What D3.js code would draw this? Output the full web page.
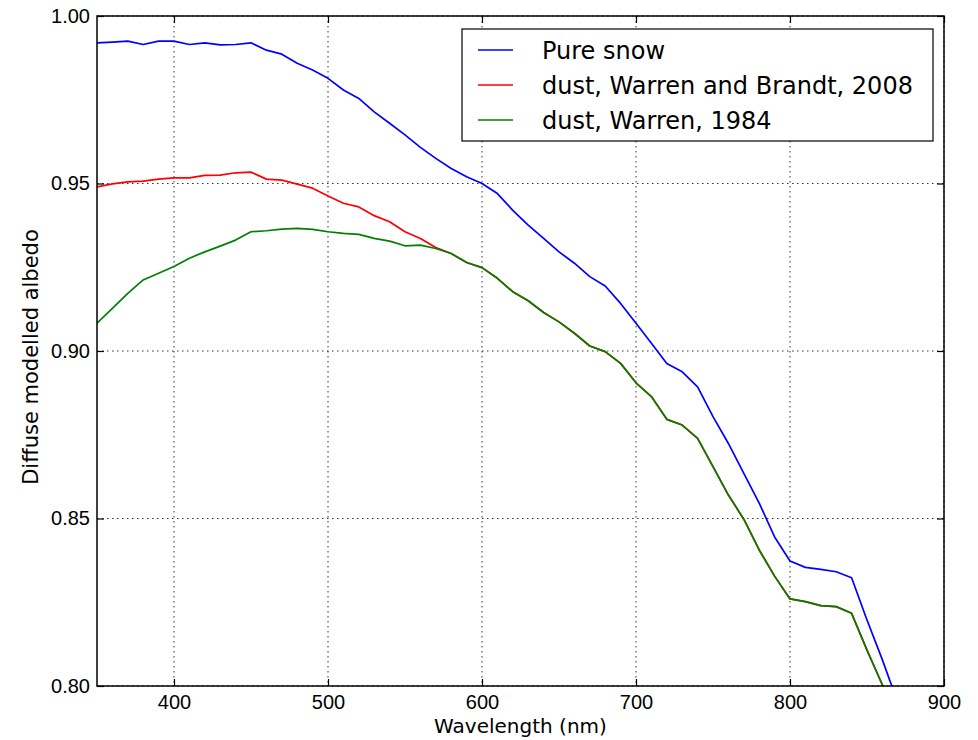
<!DOCTYPE html>
<html lang='en'>
<head>
   <meta charset='UTF-8'>
   <title>Diffuse modelled albedo</title>
   <script src='https://d3js.org/d3.v7.min.js'></script>
   <style>
      body { margin: 0; background: #fff; }
      svg { display: block; font-family: 'DejaVu Sans', sans-serif; }
      .domain { display: none; }
      .tick line { stroke: #000; stroke-width: 1.2; }
      .tick text { font-size: 20px; fill: #000; }
   </style>
</head>
<body>
   <div id='chart'></div>
   <script>
      // wavelength (nm) and modelled albedo
      const wavelength = [350, 360, 370, 380, 390, 400, 410, 420, 430, 440, 450, 460, 470, 480, 490, 500,
         510, 520, 530, 540, 550, 560, 570, 580, 590, 600, 610, 620, 630, 640, 650, 660, 670, 680, 690, 700,
         710, 720, 730, 740, 750, 760, 770, 780, 790, 800, 810, 820, 830, 840, 850, 860, 870];

      const pureSnow = [0.9920, 0.9922, 0.9925, 0.9915, 0.9925, 0.9925, 0.9915, 0.9920, 0.9914, 0.9915, 0.9920,
         0.9898, 0.9886, 0.9859, 0.9839, 0.9814, 0.9779, 0.9754, 0.9714, 0.9680, 0.9645, 0.9608, 0.9575,
         0.9545, 0.9520, 0.9500, 0.9470, 0.9420, 0.9376, 0.9336, 0.9296, 0.9262, 0.9222, 0.9194, 0.9142,
         0.9083, 0.9023, 0.8963, 0.8938, 0.8893, 0.8804, 0.8724, 0.8635, 0.8546, 0.8445, 0.8373, 0.8354,
         0.8348, 0.8341, 0.8323, 0.8197, 0.8078, 0.7950];

      const dustWB2008 = [0.9490, 0.9499, 0.9505, 0.9507, 0.9513, 0.9517, 0.9517, 0.9524, 0.9525, 0.9532, 0.9534,
         0.9513, 0.9510, 0.9498, 0.9486, 0.9463, 0.9441, 0.9430, 0.9404, 0.9386, 0.9356, 0.9336, 0.9309,
         0.9291, 0.9264, 0.9249, 0.9217, 0.9177, 0.9150, 0.9115, 0.9087, 0.9053, 0.9015, 0.8998, 0.8963,
         0.8905, 0.8864, 0.8796, 0.8779, 0.8739, 0.8655, 0.8570, 0.8498, 0.8406, 0.8328, 0.8260, 0.8252,
         0.8240, 0.8237, 0.8217, 0.8107, 0.8003, 0.7890];

      const dustW1984 = [0.9083, 0.9127, 0.9172, 0.9212, 0.9232, 0.9252, 0.9277, 0.9296, 0.9313, 0.9331, 0.9356,
         0.9359, 0.9364, 0.9366, 0.9363, 0.9356, 0.9351, 0.9348, 0.9336, 0.9328, 0.9314, 0.9316, 0.9306,
         0.9291, 0.9264, 0.9249, 0.9217, 0.9177, 0.9150, 0.9115, 0.9087, 0.9053, 0.9015, 0.8998, 0.8963,
         0.8905, 0.8864, 0.8796, 0.8779, 0.8739, 0.8655, 0.8570, 0.8498, 0.8406, 0.8328, 0.8260, 0.8252,
         0.8240, 0.8237, 0.8217, 0.8107, 0.8003, 0.7890];

      const seriesNames = ['Pure snow', 'dust, Warren and Brandt, 2008', 'dust, Warren, 1984'];
      const seriesColors = ['#0000ff', '#ff0000', '#008000'];
      const xTicks = [400, 500, 600, 700, 800, 900];
      const yTicks = [0.80, 0.85, 0.90, 0.95, 1.00];

      const margins = { top: 16, right: 34, bottom: 54, left: 97 };
      const width = 978 - margins.left - margins.right;
      const height = 740 - margins.top - margins.bottom;

      const svg = d3.select('#chart').append('svg').attr('width', 978).attr('height', 740);
      const g = svg.append('g').attr('transform', `translate(${margins.left}, ${margins.top})`);

      const x = d3.scaleLinear().domain([350, 900]).range([0, width]);
      const y = d3.scaleLinear().domain([0.80, 1.00]).range([height, 0]);

      // dotted grid
      const grid = g.append('g').attr('stroke', '#000').attr('stroke-width', 0.8).attr('stroke-dasharray', '1.5,3.5');
      grid.selectAll('.gx').data(xTicks).join('line')
         .attr('x1', d => x(d)).attr('x2', d => x(d)).attr('y1', 0).attr('y2', height);
      grid.selectAll('.gy').data(yTicks).join('line')
         .attr('x1', 0).attr('x2', width).attr('y1', d => y(d)).attr('y2', d => y(d));

      // curves
      g.append('clipPath').attr('id', 'clip').append('rect').attr('width', width).attr('height', height);
      const line = d3.line().x((d, i) => x(wavelength[i])).y(d => y(d));
      const series = [pureSnow, dustWB2008, dustW1984];
      g.append('g').attr('clip-path', 'url(#clip)')
         .selectAll('path').data(series).join('path')
         .attr('d', line)
         .attr('fill', 'none')
         .attr('stroke', (d, i) => seriesColors[i])
         .attr('stroke-width', 1.7)
         .attr('stroke-linejoin', 'round');

      // axes, ticks pointing inwards on all four sides
      g.append('g').attr('transform', `translate(0, ${height})`)
         .call(d3.axisBottom(x).tickValues(xTicks).tickSize(-7).tickPadding(9));
      g.append('g')
         .call(d3.axisLeft(y).tickValues(yTicks).tickSize(-7).tickPadding(7).tickFormat(d3.format('.2f')));
      g.append('g')
         .call(d3.axisTop(x).tickValues(xTicks).tickSize(-7).tickFormat(''));
      g.append('g').attr('transform', `translate(${width}, 0)`)
         .call(d3.axisRight(y).tickValues(yTicks).tickSize(-7).tickFormat(''));

      g.append('rect').attr('width', width).attr('height', height)
         .attr('fill', 'none').attr('stroke', '#000').attr('stroke-width', 1.5);

      // axis labels
      g.append('text')
         .attr('x', width / 2).attr('y', height + 47)
         .attr('text-anchor', 'middle').attr('font-size', '20px')
         .text('Wavelength (nm)');
      g.append('text')
         .attr('transform', 'rotate(-90)')
         .attr('x', -height / 2 - 6).attr('y', -59)
         .attr('text-anchor', 'middle').attr('font-size', '21px')
         .text('Diffuse modelled albedo');

      // legend
      const legend = g.append('g').attr('transform', `translate(${width - 482}, 13)`);
      legend.append('rect').attr('width', 471).attr('height', 112)
         .attr('fill', '#fff').attr('stroke', '#000').attr('stroke-width', 1.2);
      const rows = legend.selectAll('.row').data(seriesNames).join('g')
         .attr('transform', (d, i) => `translate(0, ${21 + i * 35})`);
      rows.append('line').attr('x1', 16).attr('x2', 51)
         .attr('stroke', (d, i) => seriesColors[i]).attr('stroke-width', 1.7);
      rows.append('text').attr('x', 80).attr('dy', '0.36em')
         .attr('font-size', '24px').text(d => d);
   </script>
</body>
</html>
